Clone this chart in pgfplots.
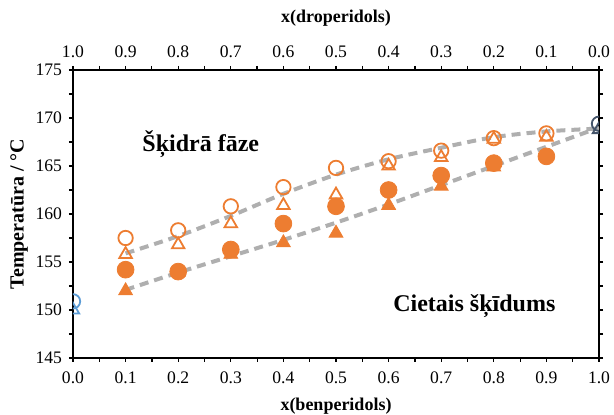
\documentclass[border=0pt]{standalone}
\usepackage{fontspec}
\setmainfont{Liberation Serif}
\usepackage{pgfplots}
\pgfplotsset{compat=1.18}
\definecolor{orng}{HTML}{ED7D31}
\definecolor{lgray}{HTML}{AFAFAF}
\definecolor{lblue}{HTML}{5B9BD5}
\definecolor{dslate}{HTML}{44546A}
\pgfplotsset{
  common/.style={
    width=263pt, height=144pt, scale only axis,
    xmin=0, xmax=1, ymin=145, ymax=175,
    xtick={0,0.1,0.2,0.3,0.4,0.5,0.6,0.7,0.8,0.9,1},
    minor x tick num=1,
    tick align=outside,
    major tick length=2pt, minor tick length=2pt,
    every tick/.style={black, line width=0.6pt},
    axis line style={black, line width=0.6pt},
    tick label style={font=\fontsize{8.8}{10}\selectfont},
    xticklabel style={/pgf/number format/fixed, /pgf/number format/fixed zerofill, /pgf/number format/precision=1},
    /pgf/number format/assume math mode=true,
    label style={font=\bfseries\fontsize{9}{10}\selectfont},
  }
}
\begin{document}
\begin{tikzpicture}
\begin{axis}[common,
  xtick pos=bottom,
  ytick={145,150,155,160,165,170,175},
  minor y tick num=1,
  ytick pos=both, yticklabel pos=left,
  xlabel={x(benperidols)},
  ylabel={Temperatūra / °C},
  xticklabel style={yshift=-1.5pt},
  xlabel style={yshift=0pt},
  ylabel style={yshift=-3pt, font=\bfseries\fontsize{10}{11}\selectfont},
  clip marker paths=true,
]
\coordinate (ll) at (rel axis cs:0,0);
% guide curves
\addplot[lgray, line width=2pt, dash pattern=on 4.5pt off 3pt, smooth, no marks]
  coordinates {(0.1,155.9)(0.2,157.7)(0.3,159.8)(0.4,162.1)(0.5,164.1)(0.6,165.7)(0.7,166.9)(0.8,168.0)(0.9,168.6)(1.0,168.9)};
\addplot[lgray, line width=2pt, dash pattern=on 4.5pt off 3pt, smooth, no marks]
  coordinates {(0.1,152.1)(0.2,153.9)(0.3,155.6)(0.4,157.3)(0.5,159.1)(0.6,161.0)(0.7,163.0)(0.8,165.0)(0.9,167.0)(1.0,169.0)};
% filled triangles
\addplot[only marks, mark=triangle*, mark size=4pt, color=orng, mark options={fill=orng}]
  coordinates {(0.1,152.0)(0.2,153.9)(0.3,155.8)(0.4,157.0)(0.5,158.0)(0.6,160.9)(0.7,162.9)(0.8,164.9)(0.9,166.0)};
% filled circles
\addplot[only marks, mark=*, mark size=4.2pt, color=orng, mark options={fill=orng}]
  coordinates {(0.1,154.2)(0.2,154.0)(0.3,156.3)(0.4,159.0)(0.5,160.8)(0.6,162.5)(0.7,164.0)(0.8,165.3)(0.9,166.0)};
% open circles
\addplot[only marks, mark=o, mark size=3.6pt, color=orng, mark options={line width=0.9pt}]
  coordinates {(0.1,157.5)(0.2,158.3)(0.3,160.8)(0.4,162.8)(0.5,164.8)(0.6,165.5)(0.7,166.6)(0.8,167.9)(0.9,168.4)};
% open triangles
\addplot[only marks, mark=triangle, mark size=3.6pt, color=orng, mark options={line width=0.9pt}]
  coordinates {(0.1,155.8)(0.2,156.8)(0.3,159.0)(0.4,160.9)(0.5,162.0)(0.6,165.0)(0.7,165.9)(0.8,167.8)(0.9,168.0)};
% pure components
\addplot[only marks, mark=o, mark size=3.6pt, color=lblue, mark options={line width=0.9pt}] coordinates {(0,150.9)};
\addplot[only marks, mark=triangle, mark size=3.6pt, color=lblue, mark options={line width=0.9pt}] coordinates {(0,150.0)};
\addplot[only marks, mark=o, mark size=3.6pt, color=dslate, mark options={line width=0.9pt}] coordinates {(1,169.4)};
\addplot[only marks, mark=triangle, mark size=3.6pt, color=dslate, mark options={line width=0.9pt}] coordinates {(1,168.8)};
\node[font=\bfseries\fontsize{12}{14}\selectfont, anchor=base] at (axis cs:0.243,166.5) {Šķidrā fāze};
\node[font=\bfseries\fontsize{12}{14}\selectfont, anchor=base] at (axis cs:0.763,149.8) {Cietais šķīdums};
\end{axis}
\begin{axis}[common,
  x dir=reverse,
  axis x line*=top,
  hide y axis,
  xlabel={x(droperidols)},
  xticklabel style={yshift=0.5pt},
  xlabel style={yshift=3pt},
]
\end{axis}
\pgfresetboundingbox
\path ([shift={(-36.5pt,-28.5pt)}]ll) rectangle ++(307pt,207.5pt);
\end{tikzpicture}
\end{document}
